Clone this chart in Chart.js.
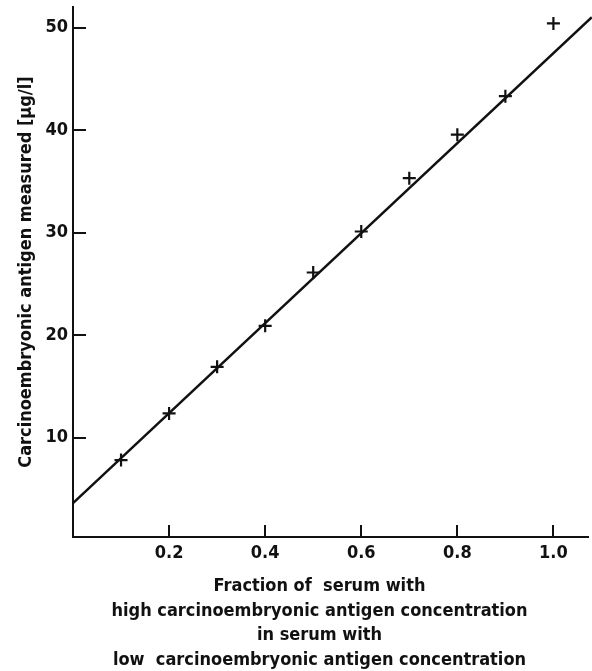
<!DOCTYPE html>
<html>
<head>
<meta charset="utf-8">
<script src="https://cdn.jsdelivr.net/npm/chart.js@4/dist/chart.umd.min.js"></script>
<style>
  html, body { margin: 0; padding: 0; background: #fff; }
  #wrap { width: 592px; height: 671px; position: relative; }
</style>
</head>
<body>
<div id="wrap"><canvas id="chart"></canvas></div>
<script>
// fraction of high-CEA serum mixed into low-CEA serum
const fractions = [0.1, 0.2, 0.3, 0.4, 0.5, 0.6, 0.7, 0.8, 0.9, 1.0];
// CEA measured, µg/l
const measured = [7.8, 12.35, 16.9, 20.9, 26.1, 30.1, 35.3, 39.55, 43.3, 50.4];

// straight line through the points, given by its two ends
const lineX = [0, 1.08];
const lineY = [3.6, 51.0];

const xTicks = [0.2, 0.4, 0.6, 0.8, 1.0];
const yTicks = [10, 20, 30, 40, 50];

const xTitle = [
    'Fraction of  serum with',
    'high carcinoembryonic antigen concentration',
    'in serum with',
    'low  carcinoembryonic antigen concentration'
];
const yTitle = 'Carcinoembryonic antigen measured [\u00b5g/l]';

const FONT = "'DejaVu Sans Condensed', 'DejaVu Sans', sans-serif";
const INK = '#111';

// short tick marks pointing into the plot, plus the x caption
const extras = {
    id: 'extras',
    afterDraw(chart) {
        const ctx = chart.ctx;
        const xs = chart.scales.x, ys = chart.scales.y;
        ctx.save();
        ctx.strokeStyle = INK;
        ctx.lineWidth = 2;
        ctx.beginPath();
        xTicks.forEach(v => {
            const px = Math.round(xs.getPixelForValue(v));
            ctx.moveTo(px, ys.bottom);
            ctx.lineTo(px, ys.bottom - 12);
        });
        yTicks.forEach(v => {
            const py = Math.round(ys.getPixelForValue(v));
            ctx.moveTo(xs.left, py);
            ctx.lineTo(xs.left + 13, py);
        });
        ctx.stroke();

        // caption sits a little left of the axis middle
        ctx.fillStyle = INK;
        ctx.font = 'bold 18px ' + FONT;
        ctx.textAlign = 'center';
        ctx.textBaseline = 'alphabetic';
        const cx = (xs.left + xs.right) / 2 - 11;
        xTitle.forEach((line, i) => {
            ctx.fillText(line, cx, ys.bottom + 54 + i * 24.7);
        });
        ctx.restore();
    }
};

new Chart(document.getElementById('chart'), {
    type: 'scatter',
    data: {
        datasets: [
            {
                data: fractions.map((f, i) => ({x: f, y: measured[i]})),
                pointStyle: 'cross',
                pointRadius: 6.5,
                pointBorderWidth: 2.2,
                borderColor: INK,
                backgroundColor: INK,
                showLine: false
            },
            {
                data: lineX.map((x, i) => ({x: x, y: lineY[i]})),
                showLine: true,
                pointRadius: 0,
                borderColor: INK,
                borderWidth: 2.5,
                fill: false,
                clip: false
            }
        ]
    },
    options: {
        responsive: true,
        maintainAspectRatio: false,
        animation: false,
        layout: {autoPadding: false, padding: {top: 7, right: 4, left: 0, bottom: 0}},
        plugins: {
            legend: {display: false},
            tooltip: {enabled: false}
        },
        scales: {
            x: {
                type: 'linear',
                min: 0,
                max: 1.072,
                afterBuildTicks: s => { s.ticks = xTicks.map(v => ({value: v})); },
                afterFit: s => { s.height = 134; s.paddingLeft = 0; s.paddingRight = 0; },
                grid: {display: false, drawTicks: false},
                border: {display: true, color: INK, width: 2},
                ticks: {
                    color: INK,
                    padding: 6,
                    font: {family: FONT, size: 18, weight: 'bold'},
                    callback: v => v.toFixed(1)
                }
            },
            y: {
                type: 'linear',
                min: 0.3,
                max: 52,
                afterBuildTicks: s => { s.ticks = yTicks.map(v => ({value: v})); },
                afterFit: s => { s.width = 73; s.paddingTop = 0; s.paddingBottom = 0; },
                grid: {display: false, drawTicks: false},
                border: {display: true, color: INK, width: 2},
                ticks: {
                    color: INK,
                    padding: 5,
                    font: {family: FONT, size: 18, weight: 'bold'},
                    callback: v => String(v)
                },
                title: {
                    display: true,
                    text: yTitle,
                    color: INK,
                    font: {family: FONT, size: 18, weight: 'bold', lineHeight: 1.2},
                    padding: {top: 16, bottom: 0}
                }
            }
        }
    },
    plugins: [extras]
});
</script>
</body>
</html>
